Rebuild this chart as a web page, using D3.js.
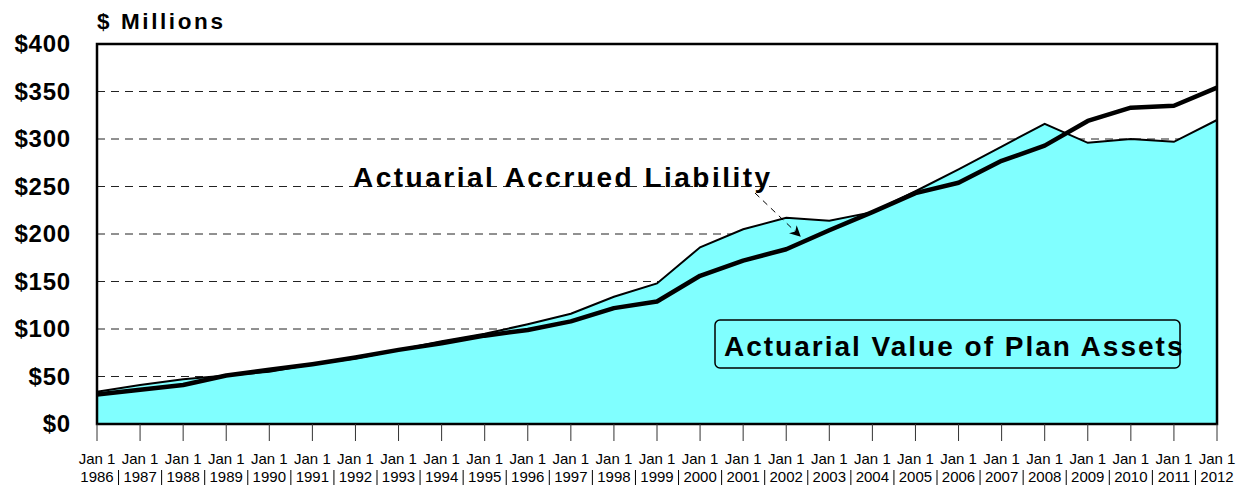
<!DOCTYPE html>
<html>
<head>
<meta charset="utf-8">
<script src="https://cdn.jsdelivr.net/npm/d3@7"></script>
<style>
  body { margin: 0; background: #fff; }
  svg { display: block; font-family: "Liberation Sans", Arial, sans-serif; }
</style>
</head>
<body>
<svg id="chart" width="1248" height="487"></svg>
<script>
// chart data
const years = d3.range(1986, 2013);
const assets = [34, 41, 47, 51, 55, 63, 69, 78, 87, 95, 105, 116, 134, 148, 186, 205, 217, 214, 223, 245, 268, 292, 316, 296, 300, 297, 320];
const liability = [31, 36, 41, 51, 57, 63, 70, 78, 85, 93, 99, 108, 122, 129, 156, 172, 184, 204, 223, 243, 254, 277, 293, 319, 333, 335, 354];
const yTicks = [0, 50, 100, 150, 200, 250, 300, 350, 400];

const svg = d3.select('#chart');
const plotL = 97, plotR = 1217, plotT = 44, plotB = 424;

const x = d3.scaleLinear().domain([1986, 2012]).range([plotL, plotR]);
const y = d3.scaleLinear().domain([0, 400]).range([plotB, plotT]);

// dashed grid
svg.append('g').selectAll('line')
    .data(yTicks.filter(d => d > 0 && d < 400))
    .join('line')
    .attr('x1', plotL).attr('x2', plotR)
    .attr('y1', d => y(d)).attr('y2', d => y(d))
    .attr('stroke', '#222')
    .attr('stroke-width', 1)
    .attr('stroke-dasharray', '8,6');

// assets area (covers the grid, like the original)
const pts = years.map((yr, i) => ({ yr, a: assets[i], l: liability[i] }));
svg.append('path')
    .datum(pts)
    .attr('fill', '#80FFFF')
    .attr('d', d3.area().x(d => x(d.yr)).y0(y(0)).y1(d => y(d.a)));

svg.append('path')
    .datum(pts)
    .attr('fill', 'none')
    .attr('stroke', '#000')
    .attr('stroke-width', 2)
    .attr('d', d3.line().x(d => x(d.yr)).y(d => y(d.a)));

svg.append('path')
    .datum(pts)
    .attr('fill', 'none')
    .attr('stroke', '#000')
    .attr('stroke-width', 4.5)
    .attr('stroke-linejoin', 'round')
    .attr('d', d3.line().x(d => x(d.yr)).y(d => y(d.l)));

// plot frame
svg.append('rect')
    .attr('x', plotL).attr('y', plotT)
    .attr('width', plotR - plotL).attr('height', plotB - plotT)
    .attr('fill', 'none')
    .attr('stroke', '#000')
    .attr('stroke-width', 2.5);

// y axis labels
svg.append('g').selectAll('text')
    .data(yTicks)
    .join('text')
    .attr('x', 71)
    .attr('y', d => y(d))
    .attr('dy', '0.35em')
    .attr('text-anchor', 'end')
    .attr('font-size', 24)
    .attr('font-weight', 'bold')
    .attr('letter-spacing', 0.8)
    .text(d => '$' + d);

// title
svg.append('text')
    .attr('x', 97).attr('y', 29)
    .attr('font-size', 22.5)
    .attr('font-weight', 'bold')
    .attr('letter-spacing', 2.6)
    .text('$ Millions');

// x ticks
svg.append('g').selectAll('line')
    .data(years)
    .join('line')
    .attr('x1', d => x(d)).attr('x2', d => x(d))
    .attr('y1', plotB).attr('y2', 441)
    .attr('stroke', '#333')
    .attr('stroke-width', 1);

const xl = svg.append('g').attr('font-size', 15);
xl.selectAll('text.jan')
    .data(years)
    .join('text')
    .attr('class', 'jan')
    .attr('x', d => x(d))
    .attr('y', 464)
    .attr('text-anchor', 'middle')
    .text('Jan 1');
xl.selectAll('text.yr')
    .data(years)
    .join('text')
    .attr('class', 'yr')
    .attr('x', d => x(d))
    .attr('y', 482)
    .attr('text-anchor', 'middle')
    .text(d => d);
// separators between years
svg.append('g').selectAll('line')
    .data(years.slice(0, -1))
    .join('line')
    .attr('x1', d => x(d + 0.5)).attr('x2', d => x(d + 0.5))
    .attr('y1', 470).attr('y2', 485)
    .attr('stroke', '#000')
    .attr('stroke-width', 1);

// liability annotation
svg.append('text')
    .attr('x', 353).attr('y', 187)
    .attr('font-size', 28)
    .attr('font-weight', 'bold')
    .attr('letter-spacing', 2.5)
    .text('Actuarial Accrued Liability');

svg.append('defs').append('marker')
    .attr('id', 'arr')
    .attr('viewBox', '0 0 10 10')
    .attr('refX', 9).attr('refY', 5)
    .attr('markerWidth', 11).attr('markerHeight', 11)
    .attr('markerUnits', 'userSpaceOnUse')
    .attr('orient', 'auto')
    .append('path')
    .attr('d', 'M0,0 L10,5 L0,10 L3,5 Z')
    .attr('fill', '#000');

svg.append('line')
    .attr('x1', 755).attr('y1', 193)
    .attr('x2', 800).attr('y2', 236)
    .attr('stroke', '#000')
    .attr('stroke-width', 1)
    .attr('stroke-dasharray', '6,5')
    .attr('marker-end', 'url(#arr)');

// assets label box
svg.append('rect')
    .attr('x', 715).attr('y', 320)
    .attr('width', 465).attr('height', 48)
    .attr('rx', 5)
    .attr('fill', '#80FFFF')
    .attr('stroke', '#000')
    .attr('stroke-width', 1.5);
svg.append('text')
    .attr('x', 724).attr('y', 356)
    .attr('font-size', 28)
    .attr('font-weight', 'bold')
    .attr('letter-spacing', 2)
    .text('Actuarial Value of Plan Assets');
</script>
</body>
</html>
